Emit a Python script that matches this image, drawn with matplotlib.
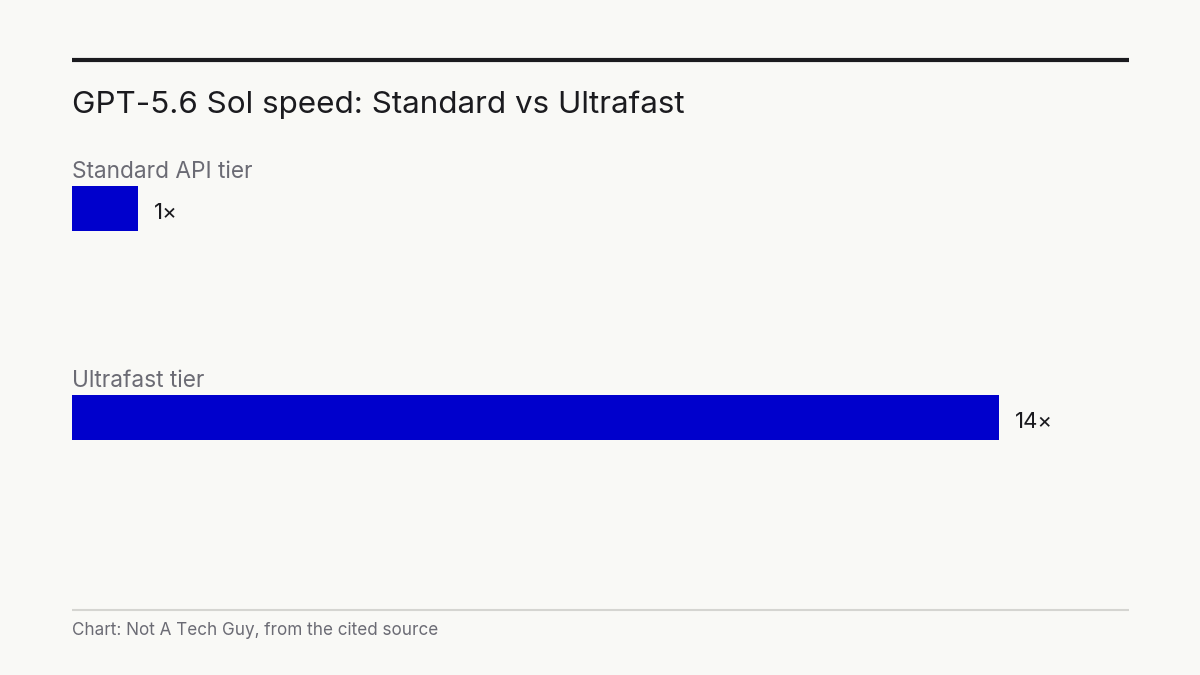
import matplotlib
matplotlib.use("Agg")
import matplotlib.pyplot as plt
from matplotlib.lines import Line2D

plt.rcParams['font.family'] = ['Inter', 'DejaVu Sans']

categories = ["Standard API tier", "Ultrafast tier"]
values = [1, 14]
value_labels = ["1×", "14×"]
title = "GPT-5.6 Sol speed: Standard vs Ultrafast"
footer = "Chart: Not A Tech Guy, from the cited source"

BG = "#f9f9f6"
DARK = "#1b1b1f"
GRAY = "#6b6b74"
BAR = "#0000cc"
RULE = "#d5d5d1"

W, H = 1200, 675
fig = plt.figure(figsize=(12, 6.75), dpi=100, facecolor=BG)

def fx(px):
    return px / W

def fy(py):
    return 1 - py / H

# top rule
fig.add_artist(Line2D([fx(72), fx(1129)], [fy(60), fy(60)], color=DARK, lw=3.0,
                      solid_capstyle='butt'))
# title
fig.text(fx(72), fy(113), title, fontsize=22.6, color=DARK, ha='left', va='baseline')

# bars axes
ax = fig.add_axes([fx(72), fy(522), fx(1129 - 72), fy(104) - fy(522)])
ax.set_facecolor(BG)
bar_h = 45 / 209
ypos = list(range(len(categories)))
ax.barh(ypos, values, height=bar_h, color=BAR)
ax.set_xlim(0, 15.97)
ax.set_ylim(len(categories) - 0.5, -0.5)
ax.axis('off')

for i, (cat, v, lab) in enumerate(zip(categories, values, value_labels)):
    ax.annotate(cat, xy=(0, i - bar_h / 2), xytext=(0, 5.8), textcoords='offset points',
                ha='left', va='baseline', fontsize=16.3, color=GRAY)
    ax.annotate(lab, xy=(v, i), xytext=(11.5, -7.6), textcoords='offset points',
                ha='left', va='baseline', fontsize=16, color=DARK)

# bottom rule
fig.add_artist(Line2D([fx(72), fx(1129)], [fy(609.5), fy(609.5)], color=RULE, lw=1.5,
                      solid_capstyle='butt'))
fig.text(fx(72), fy(635), footer, fontsize=12.3, color=GRAY, ha='left', va='baseline')

fig.savefig("out.png", dpi=100, facecolor=BG)
